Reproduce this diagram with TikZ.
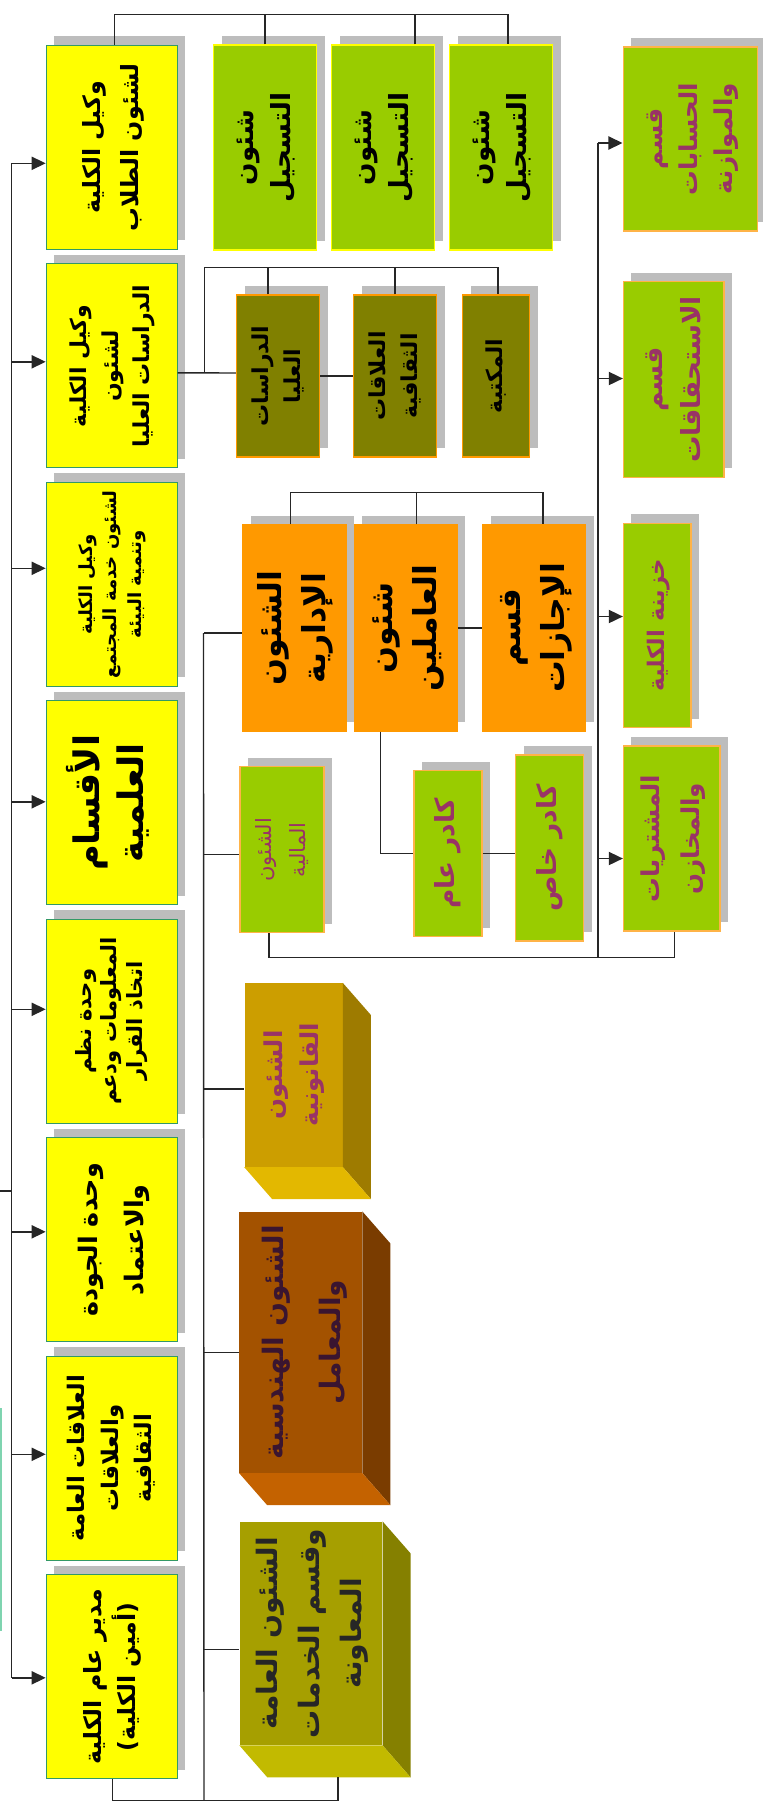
\documentclass[tikz,border=0pt]{standalone}
\usepackage{fontspec}
\usepackage{graphicx}
\usetikzlibrary{arrows.meta,calc,shadows}
\newfontfamily\arabicfont[Script=Arabic]{DejaVu Sans}
\TeXXeTstate=1
\definecolor{ylw}{HTML}{FFFF00}
\definecolor{ylwedge}{HTML}{339966}
\definecolor{lime}{HTML}{99CC00}
\definecolor{olv}{HTML}{808000}
\definecolor{org}{HTML}{FF9900}
\definecolor{orgedge}{HTML}{FFB347}
\definecolor{plum}{HTML}{993366}
\definecolor{shade}{HTML}{BDBDBD}
\definecolor{tealedge}{HTML}{7FD4B0}
\definecolor{goldfront}{HTML}{CC9E00}
\definecolor{goldside}{HTML}{9E7B00}
\definecolor{goldbot}{HTML}{E3B800}
\definecolor{brnfront}{HTML}{A35200}
\definecolor{brnside}{HTML}{7A3C00}
\definecolor{brnbot}{HTML}{C46200}
\definecolor{olvfront}{HTML}{A69F00}
\definecolor{olvside}{HTML}{858000}
\definecolor{olvbot}{HTML}{C2BA00}
\definecolor{engtext}{HTML}{3A1530}
\newcommand{\ar}[1]{\beginR #1\endR}
\newcommand{\vlbl}[1]{\rotatebox{90}{\begin{tabular}{@{}c@{}}#1\end{tabular}}}

\begin{document}
\begin{tikzpicture}[x=0.02cm, y=-0.02cm,
  sz/.style 2 args={minimum width=#1*0.02cm, minimum height=#2*0.02cm},
  fs/.style 2 args={font=\arabicfont\bfseries\fontsize{#1}{#2}\selectfont},
  box/.style={rectangle, inner sep=0pt, line width=0.6pt,
    drop shadow={shadow xshift=0.16cm, shadow yshift=0.18cm, opacity=1, fill=shade}},
  ybox/.style={box, fill=ylw, draw=ylwedge, sz={131}{204}},
  tbox/.style={box, fill=lime, draw=ylw, sz={103}{205}},
  obox/.style={box, fill=olv, draw=org, sz={83}{162}, fs={12.5}{18}},
  gbox/.style={box, fill=org, draw=org, sz={103}{206}, fs={18}{25}},
  rbox/.style={box, fill=lime, draw=orgedge, text=plum},
  cube/.style={rectangle, inner sep=0pt},
  link/.style={line width=0.8pt, draw=black!85},
  arr/.style={link, -{Triangle[length=8pt,width=7.5pt]}}]
\useasboundingbox (0,0) rectangle (762,1803);

% first column
\node[ybox, fs={13.5}{22}] (ystu) at (111.7,147.3) {\vlbl{\ar{وكيل الكلية}\\\ar{لشئون الطلاب}}};
\node[ybox, fs={12.5}{18}] (ygrad) at (111.7,365.8) {\vlbl{\ar{وكيل الكلية}\\\ar{لشئون}\\\ar{الدراسات العليا}}};
\node[ybox, fs={10.3}{14}] (yenv) at (111.7,584.3) {\vlbl{\ar{وكيل الكلية}\\\ar{لشئون خدمة المجتمع}\\\ar{وتنمية البيئة}}};
\node[ybox, fs={20}{25}] (ydep) at (111.7,802.8) {\vlbl{\ar{الأقسام}\\\ar{العلمية}}};
\node[ybox, fs={12}{14.5}] (yinfo) at (111.7,1021.3) {\vlbl{\ar{وحدة نظم}\\\ar{المعلومات ودعم}\\\ar{اتخاذ القرار}}};
\node[ybox, fs={14.5}{26}] (yqual) at (111.7,1239.8) {\vlbl{\ar{وحدة الجودة}\\\ar{والاعتماد}}};
\node[ybox, fs={13}{19}] (yrel) at (111.7,1458.3) {\vlbl{\ar{العلاقات العامة}\\\ar{والعلاقات}\\\ar{الثقافية}}};
\node[ybox, fs={13.5}{19}] (ygm) at (111.7,1676.8) {\vlbl{\ar{مدير عام الكلية}\\\ar{(أمين الكلية)}}};

% registration
\node[tbox, fs={15}{21}] (reg1) at (265,147.5) {\vlbl{\ar{شئون}\\\ar{التسجيل}}};
\node[tbox, fs={15}{21}] (reg2) at (383,147.5) {\vlbl{\ar{شئون}\\\ar{التسجيل}}};
\node[tbox, fs={15}{21}] (reg3) at (501,147.5) {\vlbl{\ar{شئون}\\\ar{التسجيل}}};

% graduate studies
\node[obox] (grad) at (278,376) {\vlbl{\ar{الدراسات}\\\ar{العليا}}};
\node[obox] (cult) at (395,376) {\vlbl{\ar{العلاقات}\\\ar{الثقافية}}};
\node[obox, sz={67}{162}] (lib) at (496,376) {\vlbl{\ar{المكتبة}}};

% administration
\node[gbox] (adm) at (294.5,628) {\vlbl{\ar{الشئون}\\\ar{الإدارية}}};
\node[gbox] (staff) at (405.7,628) {\vlbl{\ar{شئون}\\\ar{العاملين}}};
\node[gbox] (leave) at (534,628) {\vlbl{\ar{قسم}\\\ar{الإجازات}}};

\node[rbox, sz={84}{166}, font=\arabicfont\fontsize{12}{19}\selectfont] (fin) at (282,849.7) {\vlbl{\ar{الشئون}\\\ar{المالية}}};
\node[rbox, sz={68}{166}, fs={15}{19}] (kgen) at (448,853.7) {\vlbl{\ar{كادر عام}}};
\node[rbox, sz={68}{186}, fs={15}{19}] (kspec) at (549.5,848) {\vlbl{\ar{كادر خاص}}};

% finance
\node[rbox, sz={134.5}{184}, fs={14}{20}] (acct) at (690.3,139) {\vlbl{\ar{قسم}\\\ar{الحسابات}\\\ar{والموازنة}}};
\node[rbox, sz={100.6}{195.6}, fs={15}{22}] (dues) at (673.7,379.5) {\vlbl{\ar{قسم}\\\ar{الاستحقاقات}}};
\node[rbox, sz={67.6}{204.4}, fs={13}{20}] (tres) at (657.2,625.5) {\vlbl{\ar{خزينة الكلية}}};
\node[rbox, sz={96.6}{185}, fs={14}{23}] (purch) at (671.7,838.5) {\vlbl{\ar{المشتريات}\\\ar{والمخازن}}};

% blocks
\node[cube, fill=goldfront, sz={98}{183.4}, text=plum, fs={14}{20}] (legal) at (293.5,1075) {\vlbl{\ar{الشئون}\\\ar{القانونية}}};
\node[cube, fill=brnfront, sz={122.5}{261}, text=engtext, fs={16}{32}] (eng) at (300.7,1342.2) {\vlbl{\ar{الشئون الهندسية}\\\ar{والمعامل}}};
\node[cube, fill=olvfront, sz={142.5}{223.3}, text=black!85, fs={16}{24}] (gen) at (311,1633.4) {\vlbl{\ar{الشئون العامة}\\\ar{وقسم الخدمات}\\\ar{المعاونة}}};
\foreach \n/\s/\b in {legal/goldside/goldbot, eng/brnside/brnbot, gen/olvside/olvbot}{
  \fill[\s] (\n.north east) -- ([shift={(28,32)}]\n.north east) -- ([shift={(28,32)}]\n.south east) -- (\n.south east) -- cycle;
  \fill[\b] (\n.south west) -- ([shift={(28,32)}]\n.south west) -- ([shift={(28,32)}]\n.south east) -- (\n.south east) -- cycle;
}

\coordinate (trk) at (12,0);
\coordinate (bus) at (204,0);
\coordinate (rbus) at (598,0);
\coordinate (up) at (0,1191);

% trunk
\draw[tealedge, line width=0.6pt] (1,1408) -- (1,1631);
\draw[link] (up) -- (trk |- up);
\draw[link] ($(ystu.west)+(-34,16)$) -- ($(ygm.west)+(-34,1)$);
\foreach \n/\d in {ystu/16, ygrad/-4, yenv/-16, ydep/-1, yinfo/-12, yqual/-8, yrel/-4, ygm/1}{
  \path ($(\n.west)+(0,\d)$) coordinate (tip);
  \draw[arr] (trk |- tip) -- (tip);
}

% registration bracket
\draw[link] ($(ystu.north)+(3,0)$) |- ($(reg3.north)+(7,-30)$) -- ($(reg3.north)+(7,0)$);
\draw[link] (reg1.north) -- ++(0,-30);
\draw[link] ($(reg2.north)+(32,0)$) -- ++(0,-30);

% graduate bracket
\draw[link] ($(ygrad.east)+(0,7)$) -- ($(grad.west)+(0,-3)$);
\draw[link] ($(ygrad.east)+(27,7)$) |- ($(lib.north)+(2,-27)$) -- ($(lib.north)+(2,0)$);
\draw[link] ($(grad.north)+(-10,0)$) -- ++(0,-27);
\draw[link] (cult.north) -- ++(0,-27);
\draw[link] (grad.east) -- (cult.west);

% administration bracket
\draw[link] ($(adm.north)+(-4,0)$) |- ($(leave.north)+(9,-32)$) -- ($(leave.north)+(9,0)$);
\draw[link] ($(staff.north)+(11,0)$) -- ++(0,-32);
\draw[link] (staff.east) -- (leave.west);
\draw[link] ($(staff.south)+(-25,0)$) |- (kgen.west);
\draw[link] (kgen.east) -- (kgen.east -| kspec.west);

% general manager bus
\draw[link] ($(ygm.south)+(1,0)$) |- ($(gen.south)+(27,55)$) -- ($(gen.south)+(27,32)$);
\draw[link] ($(adm.west)+(-39,5)$) -- ($(gen.south)+(-107,55)$);
\foreach \n/\d in {adm/5, fin/5, legal/14, eng/10, gen/16}{
  \path ($(\n.west)+(0,\d)$) coordinate (tip);
  \draw[link] (bus |- tip) -- (tip);
}

% finance bus
\path ($(purch.south)+(3,26)$) coordinate (pbot);
\path ($(acct.west)+(0,4)$) coordinate (ptop);
\draw[link] ($(fin.south)+(-13,0)$) |- (pbot) -- ($(purch.south)+(3,0)$);
\draw[link] (rbus |- ptop) -- (rbus |- pbot);
\foreach \n/\d in {acct/4, dues/-1, tres/-9, purch/20}{
  \path ($(\n.west)+(0,\d)$) coordinate (tip);
  \draw[arr] (rbus |- tip) -- (tip);
}
\end{tikzpicture}
\end{document}
